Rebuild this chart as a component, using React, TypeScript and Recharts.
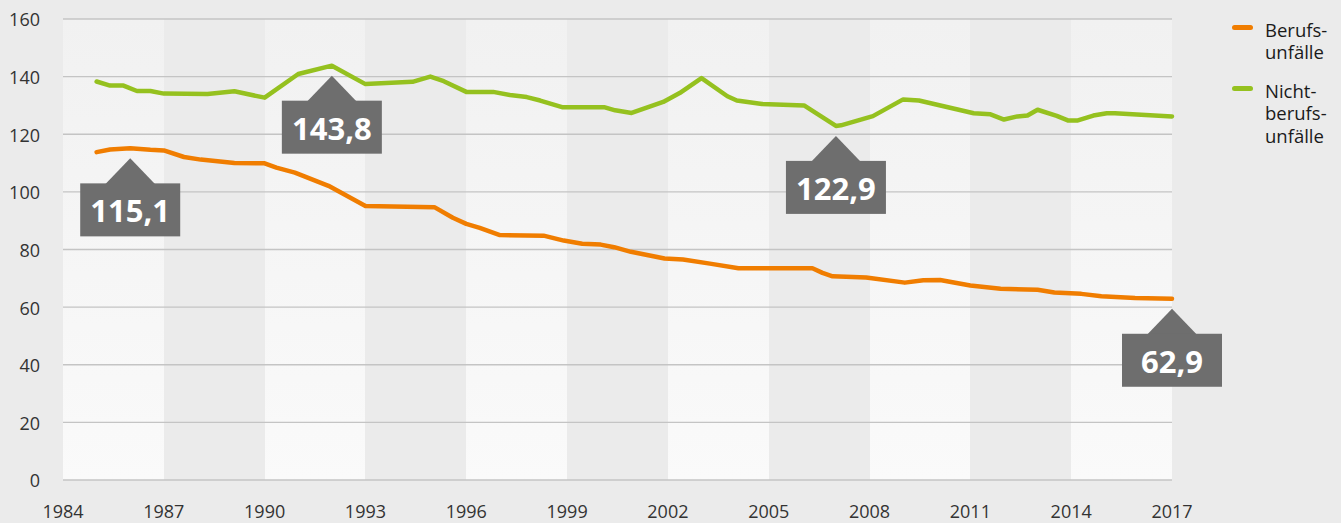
import React from 'react';
import { LineChart, Line, XAxis, YAxis, CartesianGrid, ReferenceDot } from 'recharts';

const YEAR_TICKS = [1984, 1987, 1990, 1993, 1996, 1999, 2002, 2005, 2008, 2011, 2014, 2017];
const VALUE_TICKS = [0, 20, 40, 60, 80, 100, 120, 140, 160];

// Berufsunfälle
const BERUFS_YEARS = [
  1985, 1985.4, 1986, 1986.6, 1987, 1987.6, 1988.1, 1989.1, 1990, 1990.35, 1990.9, 1991.9, 1993,
  1995.05, 1995.6, 1996, 1996.4, 1997, 1998.3, 1998.9, 1999.45, 2000, 2000.4, 2000.9, 2001.9,
  2002.45, 2003.25, 2004.1, 2006.3, 2006.6, 2006.9, 2007.9, 2009.05, 2009.6, 2010.1, 2011, 2011.9,
  2013, 2013.5, 2014.3, 2014.9, 2015.9, 2017,
];
const BERUFS_VALUES = [
  113.8, 114.7, 115.1, 114.6, 114.4, 112.1, 111.2, 110.0, 109.9, 108.4, 106.7, 102.1, 95.1,
  94.7, 91.0, 88.9, 87.5, 85.0, 84.8, 83.1, 82.0, 81.7, 80.8, 79.2, 76.9,
  76.5, 75.1, 73.5, 73.5, 71.9, 70.7, 70.3, 68.5, 69.3, 69.4, 67.5, 66.4,
  66.0, 65.1, 64.6, 63.8, 63.2, 62.9,
];

// Nichtberufsunfälle
const NICHT_YEARS = [
  1985, 1985.4, 1985.8, 1986.2, 1986.6, 1987, 1988.3, 1989.1, 1990, 1991, 1992, 1993, 1994.4,
  1994.93, 1995.33, 1996, 1996.8, 1997.3, 1997.8, 1998.2, 1998.85, 2000.1, 2000.43, 2000.92,
  2001.86, 2002.35, 2003, 2003.77, 2004.05, 2004.8, 2006.05, 2007, 2007.15, 2008.1, 2009,
  2009.47, 2011.1, 2011.6, 2012, 2012.4, 2012.7, 2013, 2013.57, 2013.9, 2014.2, 2014.66, 2015.06,
  2015.3, 2017,
];
const NICHT_VALUES = [
  138.3, 136.9, 136.9, 135.0, 135.0, 134.1, 134.0, 134.9, 132.7, 140.9, 143.8, 137.4, 138.2,
  140.0, 138.4, 134.7, 134.7, 133.6, 132.9, 131.7, 129.4, 129.4, 128.3, 127.4,
  131.2, 134.3, 139.5, 133.2, 131.7, 130.5, 130.0, 122.9, 123.1, 126.3, 132.1,
  131.7, 127.3, 126.9, 125.1, 126.2, 126.5, 128.5, 126.4, 124.8, 124.8, 126.5, 127.3,
  127.3, 126.2,
];

const CALLOUT_YEARS = [1986, 1992, 2007, 2017];
const CALLOUT_VALUES = [115.1, 143.8, 122.9, 62.9];

const berufsData = BERUFS_YEARS.map((year, i) => ({ year, value: BERUFS_VALUES[i] }));
const nichtData = NICHT_YEARS.map((year, i) => ({ year, value: NICHT_VALUES[i] }));

const ORANGE = '#f07d00';
const GREEN = '#95c11f';
const BG = '#ebebeb';
const FONT = '"Open Sans", "Noto Sans", sans-serif';

function fmt(v: number) {
  return v.toFixed(1).replace('.', ',');
}

function Callout(props: any) {
  const { cx, cy, text } = props;
  if (cx == null || cy == null) return null;
  const tip = cy + 10;
  const top = tip + 25;
  return (
    <g>
      <polygon points={`${cx},${tip} ${cx - 25},${top + 1} ${cx + 25},${top + 1}`} fill="#6e6e6e" />
      <rect x={cx - 50} y={top} width={100} height={53} fill="#6e6e6e" />
      <text
        x={cx}
        y={top + 27}
        textAnchor="middle"
        dominantBaseline="central"
        fill="#fff"
        fontFamily={FONT}
        fontWeight={700}
        fontSize={31}
      >
        {text}
      </text>
    </g>
  );
}

function LegendItem({ color, lines }: { color: string; lines: string[] }) {
  return (
    <div style={{ display: 'flex', alignItems: 'flex-start', marginBottom: 16 }}>
      <div style={{ width: 21, height: 5, borderRadius: 3, background: color, marginTop: 6, marginRight: 12 }} />
      <div style={{ fontSize: 18.5, lineHeight: '22.5px', color: '#1a1a1a' }}>
        {lines.map((l) => (
          <div key={l}>{l}</div>
        ))}
      </div>
    </div>
  );
}

export default function App() {
  return (
    <div style={{ position: 'fixed', left: 0, top: 0, width: 1341, height: 523, background: BG, fontFamily: FONT }}>
      <LineChart width={1341} height={523} margin={{ top: 19, right: 169, left: 0, bottom: 0 }}>
        <defs>
          <linearGradient id="band" x1="0" y1="0" x2="0" y2="1">
            <stop offset="0%" stopColor="#f1f1f1" />
            <stop offset="100%" stopColor="#fafafa" />
          </linearGradient>
        </defs>
        <CartesianGrid horizontal={false} vertical={() => <g />} verticalFill={['url(#band)', BG]} fillOpacity={1} />
        <CartesianGrid vertical={false} stroke="#c4c4c4" strokeWidth={1.3} />
        <XAxis
          dataKey="year"
          type="number"
          domain={[1984, 2017]}
          ticks={YEAR_TICKS}
          allowDuplicatedCategory={false}
          axisLine={false}
          tickLine={false}
          tickMargin={19}
          height={43}
          tick={{ fontSize: 18, fill: '#333', fontFamily: FONT }}
        />
        <YAxis
          type="number"
          domain={[0, 160]}
          ticks={VALUE_TICKS}
          axisLine={false}
          tickLine={false}
          width={63}
          tickMargin={17}
          tick={{ fontSize: 18, fill: '#333', fontFamily: FONT, dy: 1 }}
        />
        <Line
          data={berufsData}
          dataKey="value"
          type="linear"
          stroke={ORANGE}
          strokeWidth={4.5}
          strokeLinejoin="round"
          strokeLinecap="round"
          dot={false}
          activeDot={false}
          isAnimationActive={false}
        />
        <Line
          data={nichtData}
          dataKey="value"
          type="linear"
          stroke={GREEN}
          strokeWidth={4.5}
          strokeLinejoin="round"
          strokeLinecap="round"
          dot={false}
          activeDot={false}
          isAnimationActive={false}
        />
        {CALLOUT_YEARS.map((year, i) => (
          <ReferenceDot
            key={year}
            x={year}
            y={CALLOUT_VALUES[i]}
            r={0}
            ifOverflow="visible"
            shape={(p: any) => <Callout cx={p.cx} cy={p.cy} text={fmt(CALLOUT_VALUES[i])} />}
          />
        ))}
      </LineChart>
      <div style={{ position: 'absolute', left: 1232, top: 18.5 }}>
        <LegendItem color={ORANGE} lines={['Berufs-', 'unfälle']} />
        <LegendItem color={GREEN} lines={['Nicht-', 'berufs-', 'unfälle']} />
      </div>
    </div>
  );
}
